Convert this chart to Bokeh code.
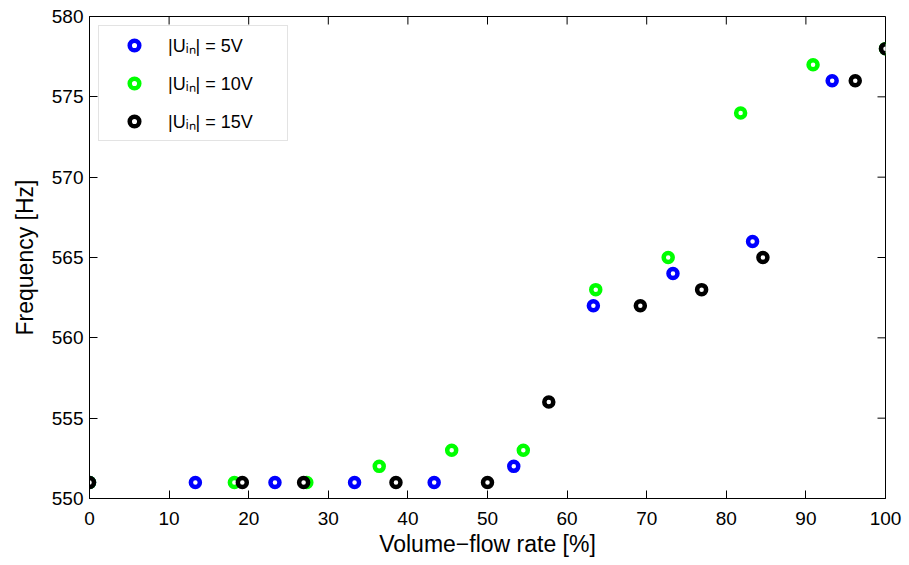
from bokeh.plotting import figure
from bokeh.models import (Range1d, FixedTicker, Legend, LegendItem)
from bokeh.embed import file_html
from bokeh.resources import INLINE

# ---- data ----
x_5v = [0, 13.3, 23.3, 33.3, 43.3, 53.3, 63.3, 73.3, 83.3, 93.3]
f_5v = [551, 551, 551, 551, 551, 552, 562, 564, 566, 576]

x_10v = [0, 18.2, 27.3, 36.4, 45.5, 54.5, 63.6, 72.7, 81.8, 90.9, 100]
f_10v = [551, 551, 551, 552, 553, 553, 563, 565, 574, 577, 578]

x_15v = [0, 19.2, 26.9, 38.5, 50.0, 57.7, 69.2, 76.9, 84.6, 96.2, 100]
f_15v = [551, 551, 551, 551, 551, 556, 562, 563, 565, 576, 578]

series_labels = ["|U\u1d62\u2099| = 5V", "|U\u1d62\u2099| = 10V", "|U\u1d62\u2099| = 15V"]
series_colors = ["#0000ff", "#00ff00", "#000000"]
x_ticks = [0, 10, 20, 30, 40, 50, 60, 70, 80, 90, 100]
y_ticks = [550, 555, 560, 565, 570, 575, 580]

FONT = "Liberation Sans"
W, H = 909, 565
L, R, T, B = 89, 24, 16, 67
X0, X1, Y0, Y1 = 0, 100, 550, 580

p = figure(width=W, height=H, output_backend="svg", toolbar_location=None,
           x_range=Range1d(X0, X1), y_range=Range1d(Y0, Y1),
           min_border_left=L, min_border_right=R, min_border_top=T, min_border_bottom=B,
           x_axis_label="Volume\u2212flow rate [%]", y_axis_label="Frequency [Hz]")
p.grid.visible = False
p.outline_line_color = "black"
p.outline_line_width = 1
p.background_fill_color = "white"
p.border_fill_color = "white"

for ax, ticks in ((p.xaxis[0], x_ticks), (p.yaxis[0], y_ticks)):
    ax.ticker = FixedTicker(ticks=ticks)
    ax.major_tick_in = 8
    ax.major_tick_out = 0
    ax.minor_tick_line_color = None
    ax.axis_line_color = "black"
    ax.major_tick_line_color = "black"
    ax.major_label_text_font = FONT
    ax.major_label_text_font_size = "19px"
    ax.major_label_text_color = "black"
    ax.axis_label_text_font = FONT
    ax.axis_label_text_font_size = "23px"
    ax.axis_label_text_font_style = "normal"
    ax.axis_label_text_color = "black"

p.xaxis[0].major_label_standoff = 13
p.xaxis[0].axis_label_standoff = 3
p.yaxis[0].major_label_standoff = 6
p.yaxis[0].axis_label_standoff = 11

fw, fh = W - L - R, H - T - B
dx_px = (X1 - X0) / fw   # data units per pixel (x)
dy_px = (Y1 - Y0) / fh   # data units per pixel (y)
TICK = 8

# mirrored ticks on top and right (box on)
p.segment(x0=x_ticks, y0=[Y1] * len(x_ticks), x1=x_ticks,
          y1=[Y1 - TICK * dy_px] * len(x_ticks), line_color="black", line_width=1)
p.segment(x0=[X1] * len(y_ticks), y0=y_ticks, x1=[X1 - TICK * dx_px] * len(y_ticks),
          y1=y_ticks, line_color="black", line_width=1)

renderers = []
for xs, ys, c in ((x_5v, f_5v, series_colors[0]),
                  (x_10v, f_10v, series_colors[1]),
                  (x_15v, f_15v, series_colors[2])):
    r = p.scatter(xs, ys, marker="circle", size=9, line_width=4.5,
                  line_color=c, fill_color="white")
    renderers.append(r)

legend = Legend(items=[LegendItem(label=lab, renderers=[r])
                       for lab, r in zip(series_labels, renderers)],
                location="top_left", margin=9, padding=7,
                glyph_width=56, glyph_height=24, label_standoff=6,
                spacing=14, label_width=112,
                label_text_font=FONT, label_text_font_size="18px",
                label_text_color="black",
                border_line_color="#c8c8c8", border_line_width=1.5,
                background_fill_color="white", background_fill_alpha=1)
p.add_layout(legend)

open("out.html", "w").write(file_html(p, INLINE))
